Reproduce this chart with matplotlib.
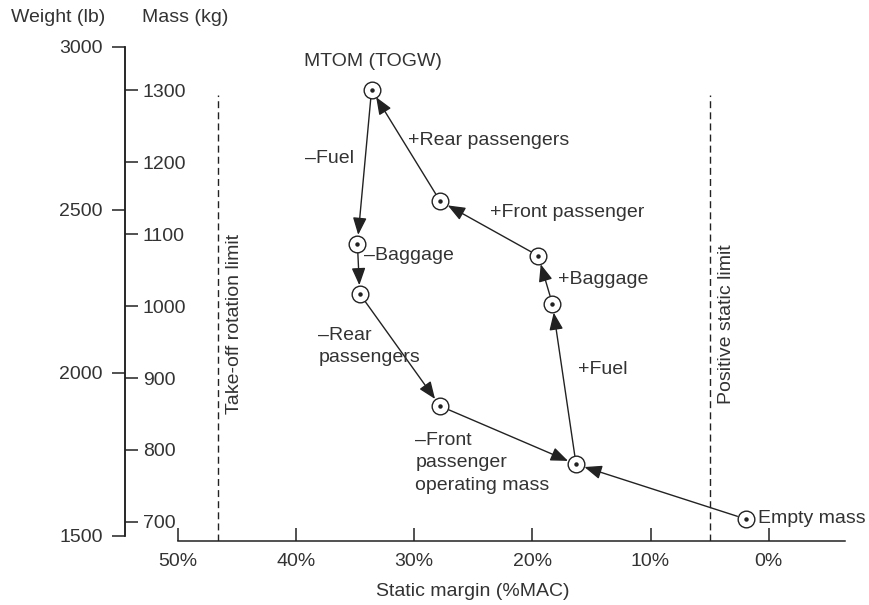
import matplotlib
matplotlib.use("Agg")
import matplotlib.pyplot as plt

plt.rcParams['font.family'] = ['Liberation Sans', 'DejaVu Sans']
plt.rcParams['font.size'] = 14

TXT = '#333333'
LN = '#222222'

# Data: static margin (%MAC) and mass (kg) of each loading state
states = ['MTOM', 'noFuel', 'noBaggage', 'noRear', 'OpMass', 'Empty', 'Fuel', 'Baggage', 'Front']
margin = [33.6, 34.8, 34.6, 27.8, 16.3, 1.95, 18.3, 19.5, 27.8]
mass = [1301, 1087, 1017, 861, 780, 704, 1003, 1070, 1146]

# Transitions (from, to)
edges = [('MTOM', 'noFuel'), ('noFuel', 'noBaggage'), ('noBaggage', 'noRear'),
         ('noRear', 'OpMass'), ('Empty', 'OpMass'), ('OpMass', 'Fuel'),
         ('Fuel', 'Baggage'), ('Baggage', 'Front'), ('Front', 'MTOM')]

limits = [46.6, 5.0]
limit_labels = ['Take-off rotation limit', 'Positive static limit']

x_ticks = [50, 40, 30, 20, 10, 0]
mass_ticks = [700, 800, 900, 1000, 1100, 1200, 1300]
weight_ticks = [1500, 2000, 2500, 3000]
LB = 0.45359237

W, H = 869, 605
fig = plt.figure(figsize=(W / 100, H / 100), dpi=100)
ax = fig.add_axes([125 / W, 64 / H, 720 / W, (541 - 46.7) / H])
ax.patch.set_visible(False)
ylo, yhi = 673.4, 1360.8
ax.set_xlim(54.46, -6.45)
ax.set_ylim(ylo, yhi)

# weight axis (twin) - created first since twinx resets ax's tick side
ax2 = ax.twinx()
ax2.patch.set_visible(False)
ax2.set_ylim(ylo / LB, yhi / LB)
for s in ['top', 'right', 'bottom']:
    ax2.spines[s].set_visible(False)
ax2.spines['left'].set_visible(True)
ax2.spines['left'].set_bounds(1500, 3000)
ax2.spines['left'].set_color(LN)
ax2.spines['left'].set_linewidth(1.1)
ax2.yaxis.tick_left()
ax2.set_yticks(weight_ticks)
ax2.set_yticklabels([str(v) for v in weight_ticks])
ax2.tick_params(axis='y', direction='out', length=9.4, width=1.1, pad=6.5,
                colors=LN, labelcolor=TXT, labelsize=14)

# mass axis spines
for s in ['top', 'left']:
    ax.spines[s].set_visible(False)
ax.spines['right'].set_visible(True)
ax.spines['right'].set_position(('axes', 0))
ax.spines['right'].set_bounds(1500 * LB, 3000 * LB)
ax.spines['right'].set_color(LN)
ax.spines['right'].set_linewidth(1.1)
ax.spines['bottom'].set_bounds(50, -6.45)
ax.spines['bottom'].set_color(LN)
ax.spines['bottom'].set_linewidth(1.1)

ax.yaxis.tick_right()
ax.set_yticks(mass_ticks)
ax.set_yticklabels([str(v) for v in mass_ticks])
ax.tick_params(axis='y', which='both', left=False, labelleft=False,
               right=True, labelright=True,
               direction='out', length=9.4, width=1.1, pad=3.4,
               colors=LN, labelcolor=TXT, labelsize=14)
ax.set_xticks(x_ticks)
ax.set_xticklabels([f'{v}%' for v in x_ticks])
ax.tick_params(axis='x', direction='in', length=9.4, width=1.1, pad=9,
               colors=LN, labelcolor=TXT, labelsize=14)
ax.set_xlabel('Static margin (%MAC)', color=TXT, fontsize=14)
ax.xaxis.set_label_coords((473 - 125) / 720, -(592 - 541) / (541 - 46.7))
ax.xaxis.label.set_va('center')

# limit lines
for xv, lab, lx in zip(limits, limit_labels, [45.2, 3.6]):
    ax.plot([xv, xv], [ylo, 1293], ls=(0, (5, 3)), color=LN, lw=1.0)
    ax.text(lx, 975, lab, rotation=90, ha='center', va='center', color=TXT, fontsize=14)

# arrows
pos = {s: (m, w) for s, m, w in zip(states, margin, mass)}
for a, b in edges:
    ax.annotate('', xy=pos[b], xytext=pos[a],
                arrowprops=dict(arrowstyle='-|>,head_length=1.05,head_width=0.42',
                                color=LN, lw=1.0, shrinkA=6.3, shrinkB=6.3,
                                mutation_scale=10), zorder=2)

ax.plot(margin, mass, 'o', ms=12, mfc='white', mec=LN, mew=1.0, zorder=3)
ax.plot(margin, mass, 'o', ms=2.2, color=LN, zorder=4)

# annotations
labels = [
    ('MTOM (TOGW)', 33.5, 1339.6, 'center'),
    ('–Fuel', 39.2, 1206, 'left'),
    ('–Baggage', 34.24, 1069.8, 'left'),
    ('–Rear\npassengers', 38.1, 944, 'left'),
    ('–Front\npassenger\noperating mass', 29.9, 782, 'left'),
    ('Empty mass', 0.9, 704, 'left'),
    ('+Fuel', 16.13, 911.3, 'left'),
    ('+Baggage', 17.83, 1036.4, 'left'),
    ('+Front passenger', 23.58, 1129.6, 'left'),
    ('+Rear passengers', 30.52, 1229.8, 'left'),
]
for t, x, y, ha in labels:
    ax.text(x, y, t, ha=ha, va='center', color=TXT, fontsize=14, linespacing=1.43)

fig.text(11 / W, 1 - 18 / H, 'Weight (lb)', ha='left', va='center', color=TXT, fontsize=14)
fig.text(142 / W, 1 - 18 / H, 'Mass (kg)', ha='left', va='center', color=TXT, fontsize=14)

fig.savefig('out.png', dpi=100)
